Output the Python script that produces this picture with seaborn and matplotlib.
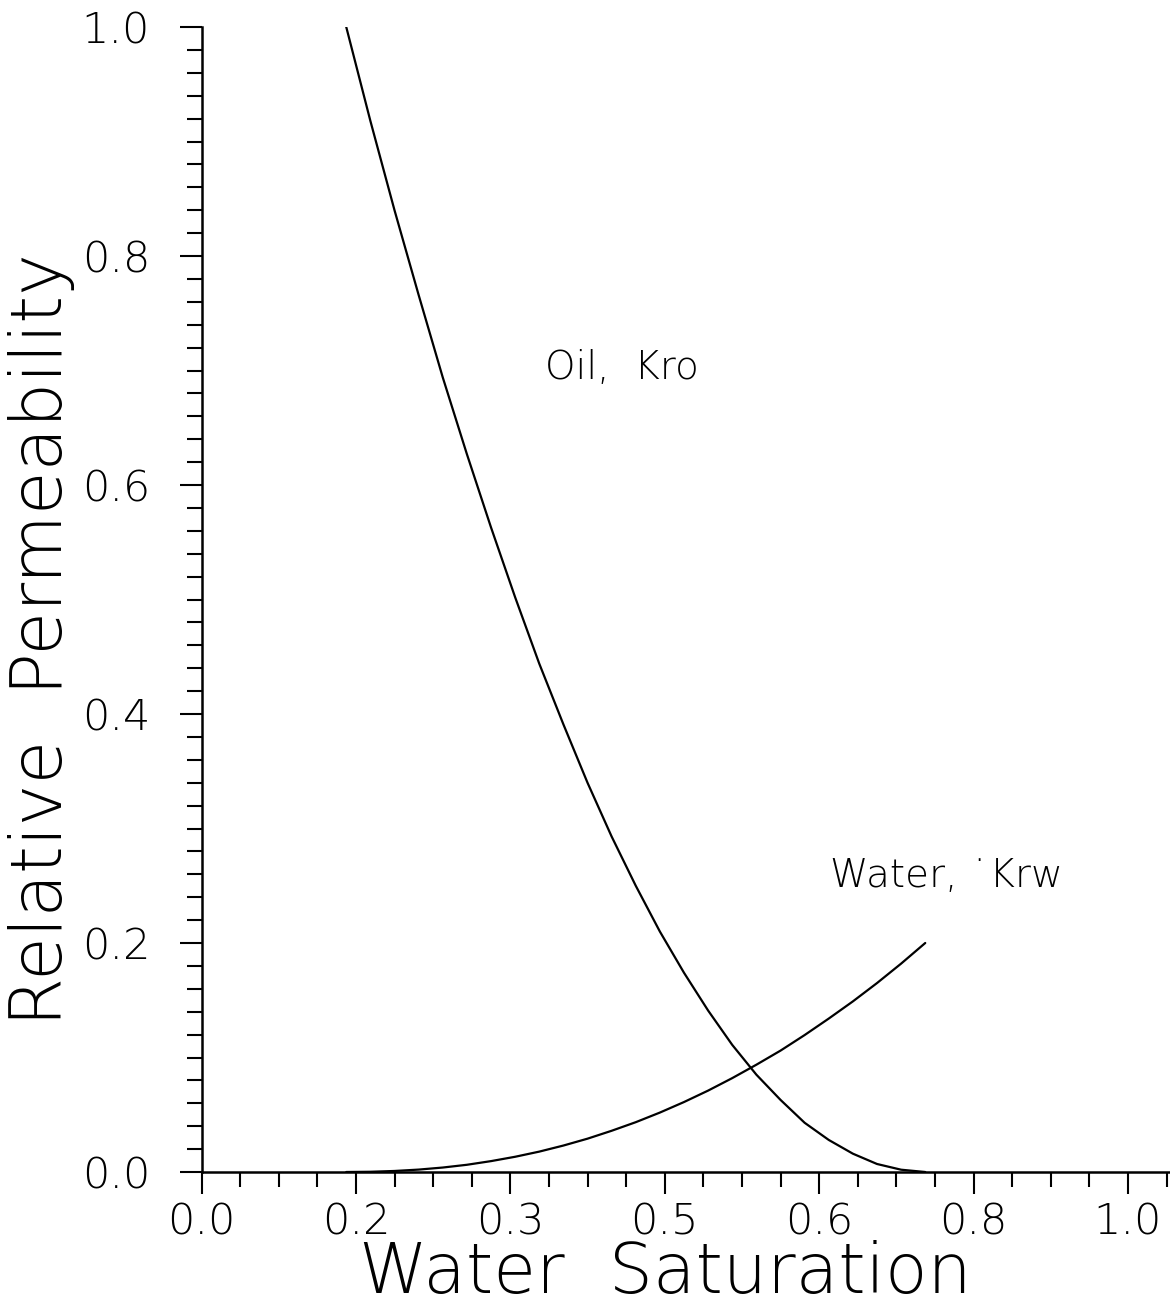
import numpy as np
import pandas as pd
import matplotlib
matplotlib.use("Agg")
import matplotlib.pyplot as plt
from matplotlib.ticker import MultipleLocator
import seaborn as sns

# Water saturation grid and relative permeability readings
water_saturation = [0.150, 0.175, 0.200, 0.225, 0.250, 0.275, 0.300, 0.325, 0.350,
                    0.375, 0.400, 0.425, 0.450, 0.475, 0.500, 0.525, 0.550, 0.575,
                    0.600, 0.625, 0.650, 0.675, 0.700, 0.725, 0.750]
kro_oil = [1.000, 0.918, 0.840, 0.766, 0.694, 0.627, 0.563, 0.502, 0.444,
           0.391, 0.340, 0.293, 0.250, 0.210, 0.174, 0.141, 0.111, 0.085,
           0.063, 0.043, 0.028, 0.016, 0.007, 0.002, 0.000]
krw_water = [0.0000, 0.0002, 0.0009, 0.0021, 0.0039, 0.0063, 0.0095, 0.0133, 0.0178,
             0.0231, 0.0291, 0.0360, 0.0435, 0.0519, 0.0611, 0.0711, 0.0820, 0.0937,
             0.1060, 0.1196, 0.1340, 0.1490, 0.1650, 0.1820, 0.2000]

x_tick_values = [0.0, 0.16, 0.32, 0.48, 0.64, 0.80, 0.96]
x_tick_labels = ["0.0", "0.2", "0.3", "0.5", "0.6", "0.8", "1.0"]
y_tick_values = [0.0, 0.2, 0.4, 0.6, 0.8, 1.0]
y_tick_labels = ["0.0", "0.2", "0.4", "0.6", "0.8", "1.0"]

curve_names = ["Oil,  Kro", "Water, ˙Krw"]

sns.set_style("ticks")
plt.rcParams["font.family"] = ["DejaVu Sans"]
plt.rcParams["font.weight"] = 200
plt.rcParams["axes.labelweight"] = 200

df = pd.concat([
    pd.DataFrame({"Sw": water_saturation, "kr": kro_oil, "phase": "oil"}),
    pd.DataFrame({"Sw": water_saturation, "kr": krw_water, "phase": "water"}),
])

W, H = 1170, 1309
fig = plt.figure(figsize=(W / 100, H / 100), dpi=100)
left_px, right_px, top_px, bottom_px = 201.5, 1169, 27, 1172
ax = fig.add_axes([left_px / W, 1 - bottom_px / H,
                   (right_px - left_px) / W, (bottom_px - top_px) / H])

sns.lineplot(data=df, x="Sw", y="kr", units="phase", estimator=None,
             color="black", linewidth=1.6, ax=ax, legend=False)

ax.set_xlim(0, (right_px - left_px) / 965)
ax.set_ylim(0, 1.0)

ax.set_xticks(x_tick_values, labels=x_tick_labels)
ax.set_yticks(y_tick_values, labels=y_tick_labels)
ax.xaxis.set_minor_locator(MultipleLocator(0.04))
ax.yaxis.set_minor_locator(MultipleLocator(0.02))

ax.tick_params(which="major", length=16, width=1.5, color="black",
               labelsize=31, labelcolor="black")
ax.tick_params(which="minor", length=11, width=1.5, color="black")
ax.tick_params(axis="y", which="major", pad=21)
ax.tick_params(axis="x", which="major", pad=5)

for side in ["top", "right"]:
    ax.spines[side].set_visible(False)
for side in ["left", "bottom"]:
    ax.spines[side].set_linewidth(1.8)
    ax.spines[side].set_color("black")

ax.set_xlabel("Water  Saturation", fontsize=50, color="black", fontweight=200)
ax.set_ylabel("Relative  Permeability", fontsize=51, color="black", fontweight=200)
ax.xaxis.set_label_coords(0.479, -0.059)
ax.yaxis.set_label_coords(-0.129, 0.465)

ax.text(0.356, 0.693, curve_names[0], fontsize=28, color="black",
        ha="left", va="baseline", fontweight=200)
ax.text(0.651, 0.249, curve_names[1], fontsize=28, color="black",
        ha="left", va="baseline", fontweight=200)

fig.savefig("out.png", dpi=100, facecolor="white")
